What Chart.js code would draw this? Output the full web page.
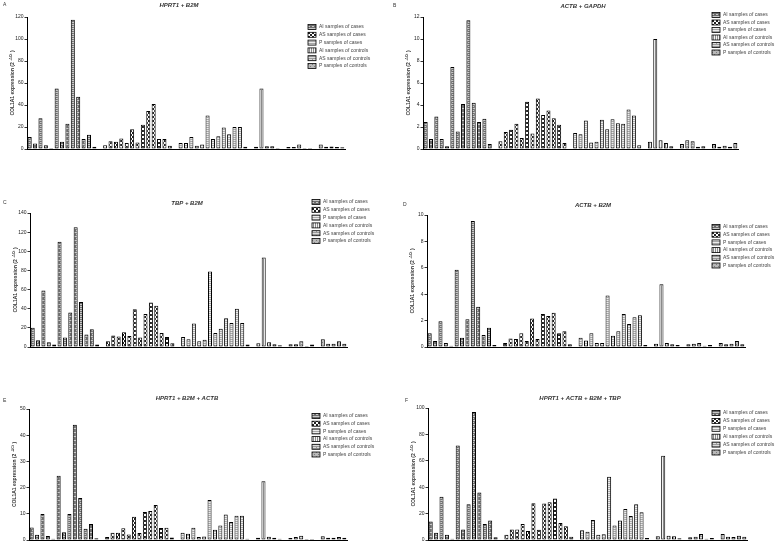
<!DOCTYPE html>
<html>
<head>
<meta charset="utf-8">
<script src="https://cdn.jsdelivr.net/npm/chart.js@4.4.1/dist/chart.umd.min.js"></script>
<style>
  html, body { margin: 0; padding: 0; background: #fff; }
  #wrap { position: relative; width: 779px; height: 546px; }
  #wrap canvas { position: absolute; left: 0; top: 0; }
</style>
</head>
<body>
<div id="wrap">
  <canvas id="cA" width="779" height="546"></canvas>
  <canvas id="cB" width="779" height="546"></canvas>
  <canvas id="cC" width="779" height="546"></canvas>
  <canvas id="cD" width="779" height="546"></canvas>
  <canvas id="cE" width="779" height="546"></canvas>
  <canvas id="cF" width="779" height="546"></canvas>
</div>
<script>
// sample groups, same order in every panel
const groupNames = ['AI samples of cases', 'AS samples of cases', 'P samples of cases',
  'AI samples of controls', 'AS samples of controls', 'P samples of controls'];

// A: HPRT1 + B2M
const aAiCases = [11, 5, 28, 3.5, 1, 55, 6.5, 23, 117.5, 47.5, 9, 13, 2];
const aAsCases = [3.5, 7, 6.5, 9.5, 5.5, 18, 6, 22, 34.5, 41, 9, 9, 3];
const aPCases = [5.5, 5.5, 11, 3, 4, 30.5, 9, 11.5, 19.5, 13.5, 20, 20, 2];
const aAiCtrl = [2, 55, 2.5, 2.5, 1];
const aAsCtrl = [1.8, 1.8, 4, 1, 1];
const aPCtrl = [4, 2, 2.2, 1.8, 1.5];

// B: ACTB + GAPDH
const bAiCases = [2.45, 0.9, 2.95, 0.9, 0.25, 7.45, 1.6, 4.1, 11.7, 4.2, 2.45, 2.75, 0.45];
const bAsCases = [0.7, 1.55, 1.75, 2.3, 1.0, 4.3, 1.4, 4.6, 3.1, 3.5, 2.8, 2.2, 0.55];
const bPCases = [1.45, 1.35, 2.6, 0.6, 0.65, 2.65, 1.8, 2.7, 2.35, 2.3, 3.6, 3.05, 0.35];
const bAiCtrl = [0.65, 10.0, 0.8, 0.55, 0.25];
const bAsCtrl = [0.45, 0.8, 0.7, 0.2, 0.25];
const bPCtrl = [0.45, 0.2, 0.3, 0.2, 0.55];

// C: TBP + B2M
const cAiCases = [20, 7, 59, 5, 2.5, 110, 10, 36, 125, 47, 13, 18.5, 2.5];
const cAsCases = [6, 12, 11, 15.5, 11.5, 39.5, 10, 34.5, 46.5, 43, 14.5, 10.5, 4];
const cPCases = [10.5, 8, 24.5, 6, 7.5, 79, 14.5, 19, 30, 25, 40, 25, 2.5];
const cAiCtrl = [4, 93.5, 5, 3, 1.8];
const cAsCtrl = [3, 3, 6, 1, 2.5];
const cPCtrl = [8, 3.5, 3.5, 6, 3.5];

// D: ACTB + B2M
const dAiCases = [1.05, 0.45, 1.95, 0.3, 0.1, 5.85, 0.7, 2.1, 9.55, 3.05, 0.9, 1.45, 0.15];
const dAsCases = [0.3, 0.65, 0.6, 1.05, 0.45, 2.15, 0.6, 2.5, 2.35, 2.6, 1.05, 1.2, 0.2];
const dPCases = [0.7, 0.5, 1.05, 0.3, 0.3, 3.9, 0.85, 1.2, 2.5, 1.75, 2.25, 2.4, 0.15];
const dAiCtrl = [0.25, 4.75, 0.3, 0.2, 0.15];
const dAsCtrl = [0.2, 0.25, 0.3, 0.1, 0.15];
const dPCtrl = [0.3, 0.2, 0.25, 0.45, 0.2];

// E: HPRT1 + B2M + ACTB
const eAiCases = [4.8, 2, 9.9, 1.5, 0.5, 24.5, 3, 9.9, 44, 16, 4.3, 6.1, 0.7];
const eAsCases = [1.1, 2.8, 2.8, 4.5, 2.1, 8.9, 2.7, 10.7, 11.1, 13.4, 4.6, 4.7, 1];
const ePCases = [2.8, 2.4, 4.7, 1.1, 1.3, 15.3, 3.9, 5.5, 9.7, 6.9, 9.3, 9.3, 0.5];
const eAiCtrl = [0.9, 22.4, 1.2, 0.9, 0.5];
const eAsCtrl = [0.8, 1.1, 1.6, 0.4, 0.4];
const ePCtrl = [1.4, 0.9, 0.9, 1.1, 0.9];

// F: HPRT1 + ACTB + B2M + TBP
const fAiCases = [14, 5.5, 32.7, 4, 1, 71.6, 8, 27, 97, 36, 12.2, 14.7, 2];
const fAsCases = [4, 8, 8, 12.2, 6.8, 27.8, 7.8, 27.6, 28.6, 31.4, 12.9, 10.4, 2.5];
const fPCases = [7.3, 6.3, 15.2, 4, 4.3, 48, 10.9, 14.7, 23.5, 18.2, 27, 21, 1.5];
const fAiCtrl = [2.8, 63.8, 3.3, 2.8, 1.3];
const fAsCtrl = [2, 2.5, 4.6, 1, 1.5];
const fPCtrl = [4.6, 2.5, 2.3, 3.3, 2.5];

// y axis ranges
const yMaxA = 120, yStepA = 20;
const yMaxB = 12, yStepB = 2;
const yMaxC = 140, yStepC = 20;
const yMaxD = 10, yStepD = 2;
const yMaxE = 50, yStepE = 10;
const yMaxF = 100, yStepF = 20;

// small fill patterns, roughly like the Prism ones
function makePattern(kind) {
  const c = document.createElement('canvas');
  const g = c.getContext('2d');
  c.width = 4; c.height = 4;
  if (kind === 0) {
    g.fillStyle = '#6e6e6e'; g.fillRect(0, 0, 4, 4);
    g.fillStyle = '#c8c8c8'; g.fillRect(0, 0, 4, 1); g.fillRect(0, 2, 2, 1);
  } else if (kind === 1) {
    g.fillStyle = '#fff'; g.fillRect(0, 0, 4, 4);
    g.fillStyle = '#222'; g.fillRect(0, 0, 2, 2); g.fillRect(2, 2, 2, 2);
  } else if (kind === 2) {
    g.fillStyle = '#a8a8a8'; g.fillRect(0, 0, 4, 4);
    g.fillStyle = '#ececec'; g.fillRect(0, 0, 4, 1); g.fillRect(0, 2, 4, 1);
  } else if (kind === 3) {
    g.fillStyle = '#f4f4f4'; g.fillRect(0, 0, 4, 4);
    g.fillStyle = '#8a8a8a'; g.fillRect(1, 0, 1, 4); g.fillRect(3, 0, 1, 4);
  } else if (kind === 4) {
    g.fillStyle = '#9a9a9a'; g.fillRect(0, 0, 4, 4);
    g.fillStyle = '#dcdcdc'; g.fillRect(0, 1, 4, 1); g.fillRect(1, 3, 3, 1);
  } else {
    g.fillStyle = '#b8b8b8'; g.fillRect(0, 0, 4, 4);
    g.fillStyle = '#7a7a7a'; g.fillRect(0, 0, 1, 1); g.fillRect(2, 2, 1, 1);
  }
  return g.createPattern(c, 'repeat');
}

// legend, panel title, letter and y title
const panelDeco = {
  id: 'panelDeco',
  afterDraw(chart, args, o) {
    const ctx = chart.ctx;
    const a = chart.chartArea;
    ctx.save();
    ctx.fillStyle = '#333';
    ctx.textBaseline = 'middle';
    ctx.font = '5px "Liberation Sans", Arial, sans-serif';
    ctx.textAlign = 'left';
    ctx.fillText(o.letter, o.letterX, o.letterY);

    ctx.font = 'italic bold 6px "Liberation Sans", Arial, sans-serif';
    ctx.textAlign = 'center';
    ctx.fillText(o.title, o.titleX, o.titleY);

    // y title with superscript exponent
    ctx.save();
    ctx.translate(a.left - 14, (a.top + a.bottom) / 2);
    ctx.rotate(-Math.PI / 2);
    const fMain = 'bold 5px "Liberation Sans", Arial, sans-serif';
    const fSup = 'bold 3.5px "Liberation Sans", Arial, sans-serif';
    const p1 = 'COL1A1 expression (2 ', p2 = '-\u0394Ct', p3 = ' )';
    ctx.font = fMain; const w1 = ctx.measureText(p1).width, w3 = ctx.measureText(p3).width;
    ctx.font = fSup; const w2 = ctx.measureText(p2).width;
    let x = -(w1 + w2 + w3) / 2;
    ctx.textAlign = 'left';
    ctx.font = fMain; ctx.fillText(p1, x, 0); x += w1;
    ctx.font = fSup; ctx.fillText(p2, x, -1.6); x += w2;
    ctx.font = fMain; ctx.fillText(p3, x, 0);
    ctx.restore();

    // legend
    chart.data.datasets.forEach((ds, i) => {
      const y = o.legendY + i * o.legendStep;
      ctx.fillStyle = ds.backgroundColor;
      ctx.fillRect(o.legendX, y - 2.5, 8, 5);
      ctx.strokeStyle = '#000';
      ctx.lineWidth = 0.8;
      ctx.strokeRect(o.legendX, y - 2.5, 8, 5);
      ctx.fillStyle = '#444';
      ctx.font = '5px "Liberation Sans", Arial, sans-serif';
      ctx.textAlign = 'left';
      ctx.fillText(ds.label, o.legendX + 11, y);
    });
    ctx.restore();
  }
};

function buildPanel(id, groups, yMax, yStep, box, deco) {
  // one slot per sample, an empty slot between groups
  const labels = [];
  const slots = [];
  groups.forEach((vals, g) => {
    if (g > 0) labels.push('');
    slots.push(labels.length);
    vals.forEach((v, k) => labels.push(groupNames[g] + ' ' + (k + 1)));
  });
  const datasets = groups.map((vals, g) => {
    const data = labels.map(() => null);
    vals.forEach((v, k) => { data[slots[g] + k] = v; });
    return {
      label: groupNames[g],
      data: data,
      backgroundColor: makePattern(g),
      borderColor: '#000',
      borderWidth: 1,
      borderSkipped: false,
      grouped: false,
      barPercentage: 0.75,
      categoryPercentage: 1
    };
  });
  const yW = 12;
  new Chart(document.getElementById(id), {
    type: 'bar',
    data: { labels: labels, datasets: datasets },
    options: {
      responsive: false,
      animation: false,
      events: [],
      layout: {
        padding: { left: box.axisX - yW, top: box.top, right: 779 - box.right, bottom: 546 - box.bottom }
      },
      plugins: {
        legend: { display: false },
        title: { display: false },
        tooltip: { enabled: false },
        panelDeco: deco
      },
      scales: {
        x: {
          ticks: { display: false },
          grid: { display: false },
          border: { display: true, color: '#000', width: 1 },
          afterFit: s => { s.height = 0; }
        },
        y: {
          min: 0,
          max: yMax,
          ticks: {
            stepSize: yStep,
            padding: 1,
            color: '#222',
            font: { size: 5, family: '"Liberation Sans", Arial, sans-serif' }
          },
          grid: { drawOnChartArea: false, drawTicks: true, tickLength: 2.5, color: '#000', lineWidth: 0.8 },
          border: { display: true, color: '#000', width: 1 },
          afterFit: s => { s.width = yW; }
        }
      }
    },
    plugins: [panelDeco]
  });
}

buildPanel('cA', [aAiCases, aAsCases, aPCases, aAiCtrl, aAsCtrl, aPCtrl], yMaxA, yStepA,
  { axisX: 27, top: 17, bottom: 149, right: 345 },
  { title: 'HPRT1 + B2M', titleX: 179, titleY: 5, letter: 'A', letterX: 3, letterY: 5, legendX: 308, legendY: 27, legendStep: 7.8 });

buildPanel('cB', [bAiCases, bAsCases, bPCases, bAiCtrl, bAsCtrl, bPCtrl], yMaxB, yStepB,
  { axisX: 423, top: 17, bottom: 149, right: 738 },
  { title: 'ACTB + GAPDH', titleX: 583, titleY: 6, letter: 'B', letterX: 393, letterY: 6, legendX: 712, legendY: 15, legendStep: 7.5 });

buildPanel('cC', [cAiCases, cAsCases, cPCases, cAiCtrl, cAsCtrl, cPCtrl], yMaxC, yStepC,
  { axisX: 30, top: 213, bottom: 347, right: 347 },
  { title: 'TBP + B2M', titleX: 187, titleY: 203, letter: 'C', letterX: 3, letterY: 203, legendX: 312, legendY: 202, legendStep: 7.8 });

buildPanel('cD', [dAiCases, dAsCases, dPCases, dAiCtrl, dAsCtrl, dPCtrl], yMaxD, yStepD,
  { axisX: 427, top: 215, bottom: 347, right: 745 },
  { title: 'ACTB + B2M', titleX: 593, titleY: 205, letter: 'D', letterX: 403, letterY: 205, legendX: 712, legendY: 227, legendStep: 7.7 });

buildPanel('cE', [eAiCases, eAsCases, ePCases, eAiCtrl, eAsCtrl, ePCtrl], yMaxE, yStepE,
  { axisX: 29, top: 409, bottom: 540, right: 347 },
  { title: 'HPRT1 + B2M + ACTB', titleX: 187, titleY: 398, letter: 'E', letterX: 3, letterY: 401, legendX: 312, legendY: 416, legendStep: 7.7 });

buildPanel('cF', [fAiCases, fAsCases, fPCases, fAiCtrl, fAsCtrl, fPCtrl], yMaxF, yStepF,
  { axisX: 428, top: 408, bottom: 540, right: 747 },
  { title: 'HPRT1 + ACTB + B2M + TBP', titleX: 580, titleY: 398, letter: 'F', letterX: 405, letterY: 401, legendX: 712, legendY: 413, legendStep: 7.9 });
</script>
</body>
</html>
